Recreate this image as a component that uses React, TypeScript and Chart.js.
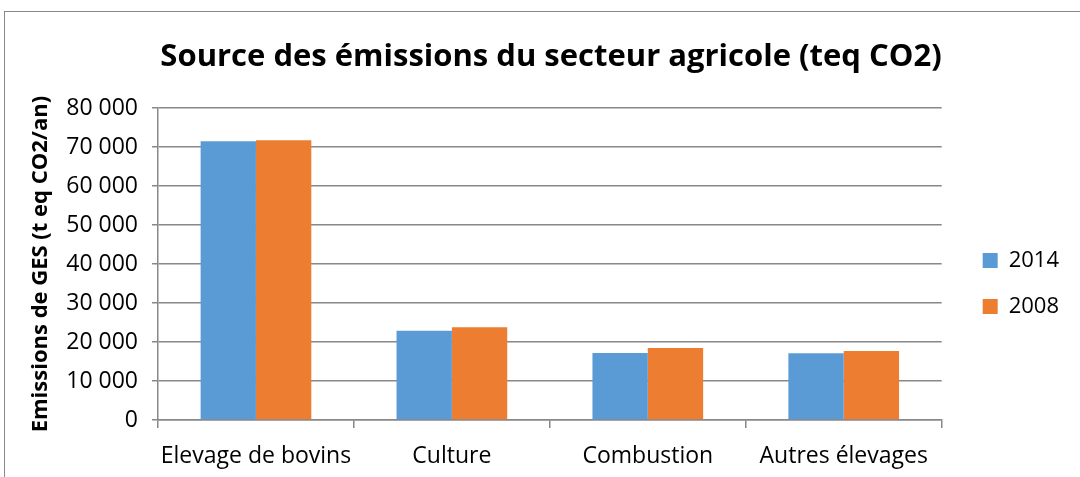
import React, { useEffect, useRef } from "react";
import { Chart, registerables } from "chart.js";

Chart.register(...registerables);

const categories = ["Elevage de bovins", "Culture", "Combustion", "Autres élevages"];
const series2014 = [71500, 22900, 17200, 17100];
const series2008 = [71800, 23800, 18500, 17700];
const seriesLabels = ["2014", "2008"];
const titleText = "Source des émissions du secteur agricole (teq CO2)";
const yTitle = "Emissions de GES (t eq CO2/an)";

const FONT = "'Open Sans', Lato, sans-serif";

function fmt(v: number): string {
  return String(Math.round(v)).replace(/\B(?=(\d{3})+(?!\d))/g, " ");
}

const boxShift = {
  id: "boxShift",
  afterLayout(chart: any) {
    const lg = chart.legend;
    if (lg) {
      lg.left += 17;
      lg.right += 17;
      lg.top += 45;
      lg.bottom += 45;
    }
    const tb = chart.titleBlock;
    if (tb) {
      tb.left += 14;
      tb.right += 14;
    }
  },
};

export default function App() {
  const ref = useRef<HTMLCanvasElement | null>(null);
  useEffect(() => {
    if (!ref.current) return;
    const chart = new Chart(ref.current, {
      type: "bar",
      data: {
        labels: categories,
        datasets: [
          { label: seriesLabels[0], data: series2014, backgroundColor: "#5B9BD5", barPercentage: 1, categoryPercentage: 0.565 },
          { label: seriesLabels[1], data: series2008, backgroundColor: "#ED7D31", barPercentage: 1, categoryPercentage: 0.565 },
        ],
      },
      plugins: [boxShift],
      options: {
        animation: false,
        responsive: false,
        maintainAspectRatio: false,
        layout: { padding: { left: 22, right: 28, top: 0, bottom: 0 } },
        plugins: {
          title: {
            display: true,
            text: titleText,
            color: "#000",
            font: { family: FONT, size: 31, weight: "bold" },
            padding: { top: 39, bottom: 32 },
          },
          legend: {
            position: "right",
            labels: {
              color: "#000",
              boxWidth: 15,
              boxHeight: 15,
              padding: 24,
              font: { family: FONT, size: 22 },
            },
          },
          tooltip: { enabled: false },
        },
        scales: {
          x: {
            grid: { drawOnChartArea: false, offset: true, tickLength: 8, color: "#888", lineWidth: 1.5 },
            border: { color: "#888", width: 1.5 },
            ticks: { color: "#000", font: { family: FONT, size: 23 }, padding: 15, maxRotation: 0 },
            afterFit: (s: any) => { s.height = 57; },
          },
          y: {
            min: 0,
            max: 80000,
            grid: { color: "#888", lineWidth: 1.5, tickLength: 6 },
            border: { color: "#888", width: 1.5 },
            ticks: { stepSize: 10000, color: "#000", font: { family: FONT, size: 23 }, padding: 14, callback: (v: any) => fmt(Number(v)) },
            title: { display: true, text: yTitle, color: "#000", font: { family: FONT, size: 22, weight: "bold" }, padding: { top: 6, bottom: 0 } },
            afterFit: (s: any) => { s.width = 158 - 22; },
          },
        },
      },
    });
    return () => chart.destroy();
  }, []);
  return (
    <div style={{ position: "absolute", left: 0, top: 0, width: 1080, height: 477, background: "#fff", overflow: "hidden" }}>
      <div style={{ position: "absolute", left: 4, top: 11, width: 1100, height: 500, border: "1px solid #888", boxSizing: "border-box" }} />
      <canvas ref={ref} width={1080} height={477} style={{ position: "absolute", left: 0, top: 0 }} />
    </div>
  );
}
